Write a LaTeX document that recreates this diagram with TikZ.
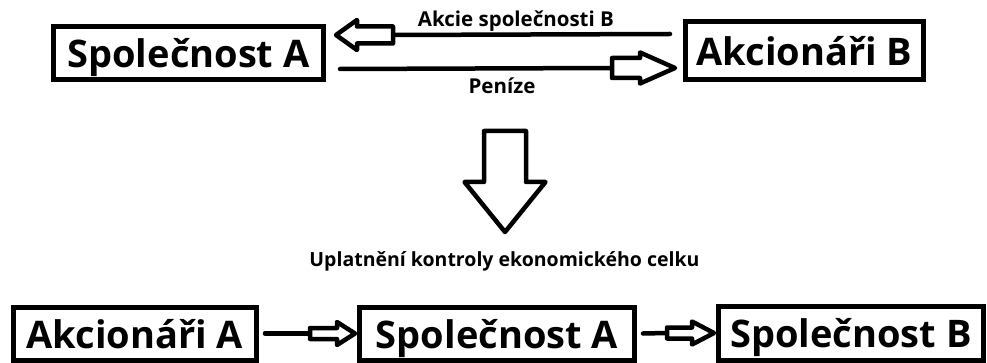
\documentclass[tikz,border=0pt]{standalone}
\usepackage{fontspec}
\setmainfont{Open Sans}[Ligatures=NoCommon]
\usetikzlibrary{calc}
\begin{document}
\begin{tikzpicture}[x=1pt,y=-1pt,
  box/.style={draw, line width=5pt, inner sep=0pt, font=\bfseries\fontsize{38}{38}\selectfont, text depth=0pt},
  lbl/.style={font=\bfseries\fontsize{20.5}{20.5}\selectfont, inner sep=0pt},
  conn/.style={line width=4.5pt, line cap=round},
  hollow/.style={line width=4.5pt, line join=round, fill=white}]
\useasboundingbox (0,0) rectangle (987,363);
% top row
\node[box, minimum width=270pt, minimum height=53pt] (sA) at (188.5,53) {Společnost A};
\node[box, minimum width=238pt, minimum height=58pt] (aB) at (804.5,50.5) {Akcionáři B};
% shares flow from B to A
\coordinate (t1) at ($(sA.east)+(10,-18)$);
\draw[conn] ($(t1)+(57,0)$) -- ($(aB.west)+(-13,-16.5)$);
\draw[hollow] (t1) -- ++(21,-15) -- ++(0,6.5) -- ++(36,0) -- ++(0,17) -- ++(-36,0) -- ++(0,6.5) -- cycle;
% money flows from A to B
\coordinate (t2) at ($(aB.west)+(-8,17.5)$);
\draw[conn] ($(sA.east)+(14,16)$) -- ($(t2)+(-63,0)$);
\draw[hollow] (t2) -- ++(-35,-15.5) -- ++(0,5.5) -- ++(-28,0) -- ++(0,20) -- ++(28,0) -- ++(0,5.5) -- cycle;
\node[lbl] (l1) at (516,21.5) {Akcie společnosti B};
\node[lbl] (l2) at (502,86) {Peníze};
% big transition arrow
\coordinate (big) at (505,232);
\draw[hollow] (big) -- ++(-40.5,-50) -- ++(19.5,0) -- ++(0,-51) -- ++(42,0) -- ++(0,51) -- ++(19.5,0) -- cycle;
\node[lbl, font=\bfseries\fontsize{19.5}{19.5}\selectfont] (l3) at (504.5,261) {Uplatnění kontroly ekonomického celku};
% bottom row
\node[box, minimum width=243pt, minimum height=53pt] (aA) at (135,333.5) {Akcionáři A};
\node[box, minimum width=275pt, minimum height=53pt] (sA2) at (497,333.5) {Společnost A};
\node[box, minimum width=265pt, minimum height=54pt] (sB) at (851,333) {Společnost B};
\coordinate (t3) at ($(sA2.west)+(-2,0)$);
\draw[conn] ($(aA.east)+(6,0)$) -- ($(t3)+(-45,0)$);
\draw[hollow] (t3) -- ++(-18,-11.5) -- ++(0,6) -- ++(-27,0) -- ++(0,11) -- ++(27,0) -- ++(0,6) -- cycle;
\coordinate (t4) at ($(sB.west)+(-2,0)$);
\draw[conn] ($(sA2.east)+(6,0)$) -- ($(t4)+(-47,0)$);
\draw[hollow] (t4) -- ++(-22,-11.5) -- ++(0,6) -- ++(-25,0) -- ++(0,11) -- ++(25,0) -- ++(0,6) -- cycle;
\end{tikzpicture}
\end{document}
